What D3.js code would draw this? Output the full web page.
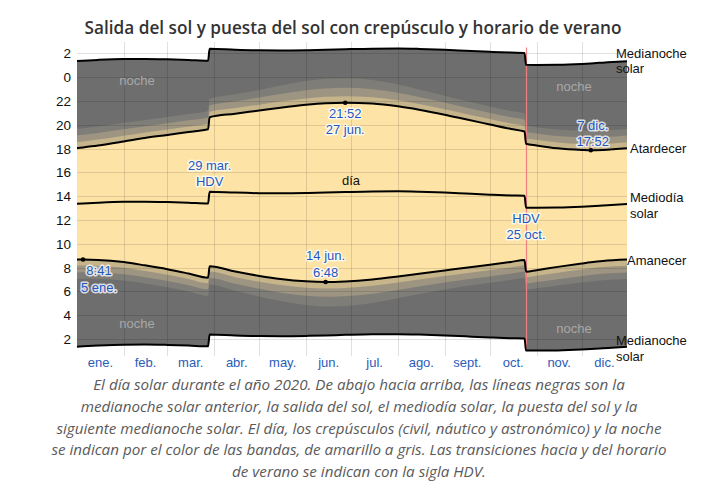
<!DOCTYPE html>
<html><head><meta charset="utf-8">
<script src="https://cdn.jsdelivr.net/npm/d3@7"></script>
<style>body{margin:0;background:#fff}</style>
</head><body>
<svg id="chart" width="707" height="486"></svg>
<script>
// ---- data (standard time CET, decimal hours) ----
const dates = ["01-01","01-05","01-15","02-01","02-15","03-01","03-15","03-28","03-29","04-15","05-01","05-15","06-01","06-14","06-27","07-15","08-01","08-15","09-01","09-15","10-01","10-15","10-24","10-25","11-01","11-15","12-01","12-07","12-15","12-31"];
const solarNoon = [13.362,13.394,13.460,13.534,13.544,13.512,13.457,13.392,13.387,13.307,13.259,13.247,13.270,13.307,13.355,13.405,13.412,13.382,13.309,13.229,13.137,13.070,13.044,13.042,13.034,13.050,13.124,13.165,13.227,13.354];
const sunrise = [8.680,8.684,8.655,8.469,8.196,7.871,7.509,7.155,7.127,6.673,6.309,6.049,5.853,5.799,5.847,6.016,6.266,6.493,6.767,6.992,7.239,7.481,7.649,7.665,7.794,8.068,8.353,8.455,8.565,8.678];
const sunset = [18.044,18.104,18.265,18.599,18.892,19.153,19.405,19.629,19.647,19.941,20.209,20.445,20.687,20.815,20.863,20.794,20.558,20.271,19.851,19.466,19.035,18.659,18.439,18.419,18.274,18.032,17.895,17.867,17.889,18.030];
const civilDawn = [8.170,8.177,8.156,7.989,7.732,7.416,7.057,6.700,6.672,6.203,5.819,5.536,5.315,5.250,5.298,5.482,5.758,6.007,6.302,6.537,6.787,7.025,7.186,7.201,7.325,7.582,7.851,7.948,8.054,8.168];
const civilDusk = [18.554,18.611,18.764,19.079,19.356,19.608,19.857,20.084,20.102,20.411,20.699,20.958,21.225,21.364,21.412,21.328,21.066,20.757,20.316,19.921,19.487,19.115,18.902,18.883,18.743,18.518,18.397,18.382,18.400,18.540];
const nauticalDawn = [7.603,7.612,7.598,7.446,7.200,6.891,6.530,6.164,6.135,5.641,5.222,4.900,4.637,4.552,4.600,4.810,5.130,5.417,5.747,6.001,6.262,6.499,6.656,6.670,6.790,7.035,7.290,7.383,7.485,7.600];
const nauticalDusk = [19.121,19.176,19.322,19.622,19.888,20.133,20.384,20.620,20.639,20.973,21.296,21.594,21.903,22.062,22.110,22.000,21.694,21.347,20.871,20.457,20.012,19.641,19.432,19.414,19.278,19.065,18.958,18.947,18.969,19.108];
const astroDawn = [7.053,7.063,7.054,6.913,6.674,6.365,5.997,5.614,5.583,5.052,4.580,4.194,3.857,3.737,3.785,4.040,4.438,4.785,5.168,5.451,5.731,5.974,6.130,6.145,6.262,6.499,6.745,6.834,6.934,7.050];
const astroDusk = [19.671,19.725,19.866,20.155,20.414,20.659,20.917,21.170,21.191,21.562,21.938,22.300,22.683,22.877,22.925,22.770,22.386,21.979,21.450,21.007,20.543,20.166,19.958,19.939,19.806,19.601,19.503,19.496,19.520,19.658];
const dstStart = "03-29", dstEnd = "10-25";
const monthLabels = ["ene.","feb.","mar.","abr.","may.","jun.","jul.","ago.","sept.","oct.","nov.","dic."];
const hourTicks = [2,4,6,8,10,12,14,16,18,20,22,24,26];
const title = "Salida del sol y puesta del sol con crepúsculo y horario de verano";
const captionLines = [
 "El día solar durante el año 2020. De abajo hacia arriba, las líneas negras son la",
 "medianoche solar anterior, la salida del sol, el mediodía solar, la puesta del sol y la",
 "siguiente medianoche solar. El día, los crepúsculos (civil, náutico y astronómico) y la noche",
 "se indican por el color de las bandas, de amarillo a gris. Las transiciones hacia y del horario",
 "de verano se indican con la sigla HDV."
];
// highlighted points: [date, series, lines]
const highlights = [
 ["01-05","sunrise",["8:41","5 ene."]],
 ["06-14","sunrise",["14 jun.","6:48"]],
 ["06-27","sunset",["21:52","27 jun."]],
 ["12-07","sunset",["7 dic.","17:52"]]
];

// ---- build ----
const svg = d3.select("#chart");
const parse = s => new Date(Date.UTC(2020, +s.slice(0,2)-1, +s.slice(3,5)));
const isDst = s => s >= dstStart && s < dstEnd;
const rows = dates.map((s,i) => {
  const o = isDst(s) ? 1 : 0;
  return {s, d: parse(s), noon: solarNoon[i]+o, rise: sunrise[i]+o, set: sunset[i]+o,
    cd: civilDawn[i]+o, cu: civilDusk[i]+o, nd: nauticalDawn[i]+o, nu: nauticalDusk[i]+o,
    ad: astroDawn[i]+o, au: astroDusk[i]+o, m0: solarNoon[i]+o-12, m1: solarNoon[i]+o+12};
});
const L = 77, R = 627;
const x = d3.scaleUtc().domain([Date.UTC(2020,0,1), Date.UTC(2020,11,31)]).range([L, R]);
const y = d3.scaleLinear().domain([1, 26.5]).range([351, 47.5]);
const curve = d3.curveMonotoneX;

const area = (a,b) => d3.area().curve(curve).x(d=>x(d.d)).y0(d=>y(d[a])).y1(d=>y(d[b]));
const bands = [["m0","m1","#6e6e6e"],["ad","au","#7f7d77"],["nd","nu","#9d9481"],["cd","cu","#c6b48b"],["rise","set","#fde3a5"]];
bands.forEach(([a,b,c]) => svg.append("path").datum(rows).attr("d", area(a,b)(rows)).attr("fill", c));

// gridlines
const g = svg.append("g").attr("stroke","rgba(0,0,0,0.12)").attr("stroke-width",1);
hourTicks.forEach(h => g.append("line").attr("x1",L).attr("x2",R).attr("y1",Math.round(y(h))+0.5).attr("y2",Math.round(y(h))+0.5));
for (let m=1; m<12; m++) {
  const xv = Math.round(x(new Date(Date.UTC(2020,m,1))))+0.5;
  g.append("line").attr("x1",xv).attr("x2",xv).attr("y1",42).attr("y2",356);
}

// red rule at DST end
const xr = Math.round(x(parse(dstEnd)))+0.5;
svg.append("line").attr("x1",xr).attr("x2",xr).attr("y1",47.5).attr("y2",351).attr("stroke","#f08080").attr("stroke-width",1.2);

// black lines
const line = k => d3.line().curve(curve).x(d=>x(d.d)).y(d=>y(d[k]));
["m0","rise","noon","set","m1"].forEach(k => svg.append("path").attr("d", line(k)(rows)).attr("fill","none").attr("stroke","#000").attr("stroke-width",2));

// y axis labels
const font = "'Liberation Sans', Arial, sans-serif";
svg.append("g").selectAll("text").data(hourTicks).join("text")
  .attr("x",71).attr("y",h=>y(h)+5).attr("text-anchor","end")
  .attr("font-family",font).attr("font-size",13.5).attr("fill","#111").text(h=>h%24);

// x labels
svg.append("g").selectAll("text").data(monthLabels).join("text")
  .attr("x",(t,i)=>(x(new Date(Date.UTC(2020,i,1))) + (i<11 ? x(new Date(Date.UTC(2020,i+1,1))) : R))/2)
  .attr("y",367).attr("text-anchor","middle")
  .attr("font-family",font).attr("font-size",13).attr("fill","#2a5cb8").text(t=>t);

// highlight points
const blue = "#1f58c0";
function multi(xc, yc, lines, col, halo) {
  const t = svg.append("text").attr("font-family",font).attr("font-size",13).attr("fill",col).attr("text-anchor","middle");
  if (halo) t.attr("stroke","rgba(255,255,255,0.75)").attr("stroke-width",3).attr("paint-order","stroke").attr("stroke-linejoin","round");
  lines.forEach((l,i)=> t.append("tspan").attr("x",xc).attr("y",yc + i*16.5).text(l));
}
const offs = {"01-05":[16,15.5],"06-14":[0,-21.5],"06-27":[0,15],"12-07":[2,-20.5]};
highlights.forEach(([s,k,lines]) => {
  const r = rows.find(d=>d.s===s);
  const px = x(r.d), py = y(r[k==="sunrise"?"rise":"set"]);
  svg.append("circle").attr("cx",px).attr("cy",py).attr("r",2.3).attr("fill","#000");
  multi(px+offs[s][0], py+offs[s][1], lines, blue, true);
});
// DST annotations
const rs = rows.find(d=>d.s===dstStart), re = rows.find(d=>d.s===dstEnd);
multi(x(rs.d), y(rs.noon)-22, ["29 mar.","HDV"], blue, true);
multi(x(re.d), y(re.noon)+15, ["HDV","25 oct."], blue, true);

// día / noche
multi(351, 185, ["día"], "#111", false);
[[137,85],[137,328],[574,91],[574,333]].forEach(([a,b]) => multi(a,b,["noche"],"#a8a8a8",false));

// right labels
const last = rows[rows.length-1];
const rl = (xp, yc, lines) => {
  const t = svg.append("text").attr("font-family",font).attr("font-size",13).attr("fill","#111");
  const n = lines.length;
  lines.forEach((l,i)=> t.append("tspan").attr("x",xp).attr("y",yc + 5 + (i-(n-1)/2)*15.5).text(l));
};
rl(616, y(last.m1)-0.5, ["Medianoche","solar"]);
rl(630, y(last.set), ["Atardecer"]);
rl(630, y(last.noon)+1, ["Mediodía","solar"]);
rl(627, y(last.rise), ["Amanecer"]);
rl(616, y(last.m0)+1, ["Medianoche","solar"]);

// title
svg.append("text").attr("x",353).attr("y",34).attr("text-anchor","middle")
  .attr("font-family","'Open Sans', sans-serif").attr("font-weight",600).attr("font-size",17.2).attr("fill","#333").text(title);

// caption
const cap = svg.append("text").attr("text-anchor","middle").attr("font-family","'Open Sans', sans-serif")
  .attr("font-style","italic").attr("font-size",15.2).attr("fill","#5a5a5a");
captionLines.forEach((l,i)=> cap.append("tspan").attr("x",359).attr("y",390 + i*21.8).text(l));
</script>
</body></html>
